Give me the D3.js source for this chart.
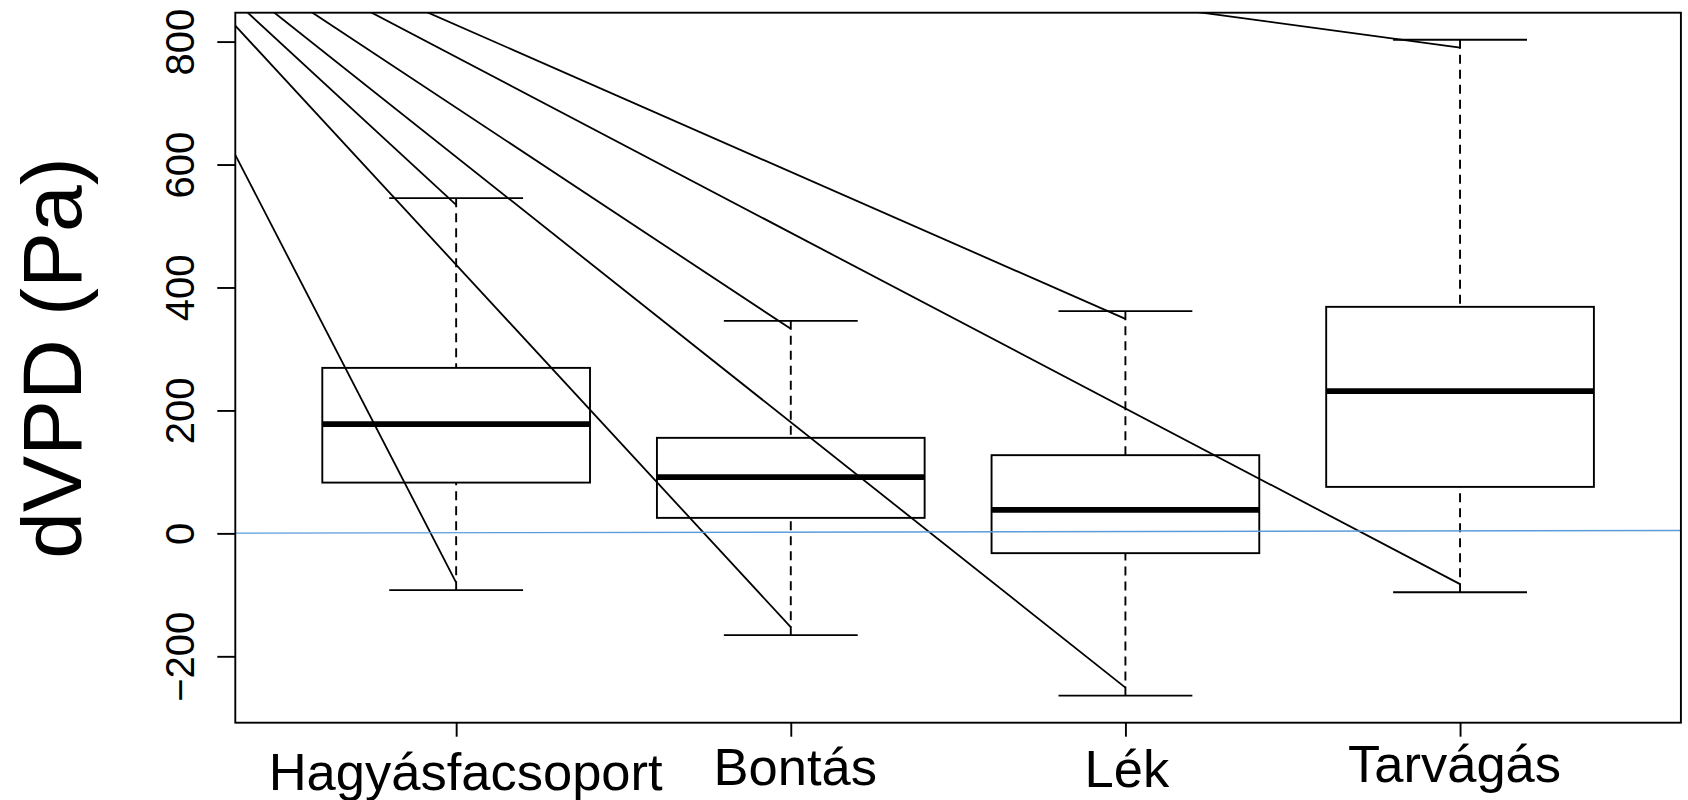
<!DOCTYPE html>
<html>
<head>
<meta charset="utf-8">
<script src="https://cdn.jsdelivr.net/npm/d3@7"></script>
<style>
  body { margin: 0; background: #fff; }
  svg { display: block; }
</style>
</head>
<body>
<div id="chart"></div>
<script>
// Box statistics per group (Pa)
const groups = ['Hagyásfacsoport', 'Bontás', 'Lék', 'Tarvágás'];
const whiskerLow = [-92.4, -165.6, -263.9, -95.7];
const q1 = [82.6, 25.2, -32.2, 75.6];
const median = [177.6, 91.4, 38.2, 231.3];
const q3 = [269.2, 155.4, 127.2, 368.5];
const whiskerHigh = [545.3, 345.7, 361.5, 803.0];

// the straight lines all start from one point above the plot and end near the whisker tips
const lineOrigin = [-0.113, 1093];
const lineEndLow = [-80.0, -152.6, -250.9, -82.6];
const lineEndHigh = [534.4, 332.7, 349.0, 790.3];

// reference line: intercept, slope
const refLine = [0, 1];

const yTicks = [-200, 0, 200, 400, 600, 800];
const yLimits = [-308, 847];
const xLimits = [0.34, 4.66];

const width = 1688;
const height = 800;
const plot = {left: 235.3, right: 1680.9, top: 12.7, bottom: 722.7};
const lw = 1.9;

const xScale = d3.scaleLinear().domain(xLimits).range([plot.left, plot.right]);
const yScale = d3.scaleLinear().domain(yLimits).range([plot.bottom, plot.top]);

const svg = d3.select('#chart')
  .append('svg')
  .attr('width', width)
  .attr('height', height)
  .style('background', '#fff')
  .style('font-family', '"Liberation Sans", Arial, sans-serif');

svg.append('clipPath')
  .attr('id', 'plot-clip')
  .append('rect')
  .attr('x', plot.left)
  .attr('y', plot.top)
  .attr('width', plot.right - plot.left)
  .attr('height', plot.bottom - plot.top);

const boxes = svg.append('g');
const half = 0.4, stapleHalf = 0.2;

groups.forEach((g, i) => {
  const x = i + 1;
  // whiskers, drawn from the tip towards the box like R does
  boxes.append('line')
    .attr('x1', xScale(x)).attr('x2', xScale(x))
    .attr('y1', yScale(whiskerHigh[i])).attr('y2', yScale(q3[i]))
    .attr('stroke', '#000').attr('stroke-width', lw)
    .attr('stroke-dasharray', '9,6');
  boxes.append('line')
    .attr('x1', xScale(x)).attr('x2', xScale(x))
    .attr('y1', yScale(whiskerLow[i])).attr('y2', yScale(q1[i]))
    .attr('stroke', '#000').attr('stroke-width', lw)
    .attr('stroke-dasharray', '9,6');
  // staples
  [whiskerHigh[i], whiskerLow[i]].forEach(v => {
    boxes.append('line')
      .attr('x1', xScale(x - stapleHalf)).attr('x2', xScale(x + stapleHalf))
      .attr('y1', yScale(v)).attr('y2', yScale(v))
      .attr('stroke', '#000').attr('stroke-width', lw);
  });
  // box
  boxes.append('rect')
    .attr('x', xScale(x - half))
    .attr('y', yScale(q3[i]))
    .attr('width', xScale(x + half) - xScale(x - half))
    .attr('height', yScale(q1[i]) - yScale(q3[i]))
    .attr('fill', 'none')
    .attr('stroke', '#000').attr('stroke-width', lw);
  // median
  boxes.append('line')
    .attr('x1', xScale(x - half)).attr('x2', xScale(x + half))
    .attr('y1', yScale(median[i])).attr('y2', yScale(median[i]))
    .attr('stroke', '#000').attr('stroke-width', lw * 3);
});

// lines from the common origin
const lines = svg.append('g').attr('clip-path', 'url(#plot-clip)');
groups.forEach((g, i) => {
  [lineEndHigh[i], lineEndLow[i]].forEach(v => {
    lines.append('line')
      .attr('x1', xScale(lineOrigin[0])).attr('y1', yScale(lineOrigin[1]))
      .attr('x2', xScale(i + 1)).attr('y2', yScale(v))
      .attr('stroke', '#000').attr('stroke-width', 1.8);
  });
});

// reference line
lines.append('line')
  .attr('x1', xScale(xLimits[0])).attr('y1', yScale(refLine[0] + refLine[1] * xLimits[0]))
  .attr('x2', xScale(xLimits[1])).attr('y2', yScale(refLine[0] + refLine[1] * xLimits[1]))
  .attr('stroke', '#5d9cdb').attr('stroke-width', 1.4);

// frame
svg.append('rect')
  .attr('x', plot.left).attr('y', plot.top)
  .attr('width', plot.right - plot.left)
  .attr('height', plot.bottom - plot.top)
  .attr('fill', 'none')
  .attr('stroke', '#000').attr('stroke-width', lw);

// x axis (labels nudged a little, as in the original)
const labelBaseline = [67.3, 62.3, 64, 59];
const labelShift = [9, 4, 1, -6];
const xAxis = d3.axisBottom(xScale)
  .tickValues(groups.map((g, i) => i + 1))
  .tickFormat((d, i) => groups[i])
  .tickSize(14);
const xg = svg.append('g')
  .attr('transform', `translate(0, ${plot.bottom})`)
  .call(xAxis);
xg.select('.domain').remove();
xg.selectAll('line').attr('stroke', '#000').attr('stroke-width', lw);
xg.selectAll('text')
  .attr('x', (d, i) => labelShift[i])
  .attr('y', (d, i) => labelBaseline[i])
  .attr('dy', 0)
  .attr('fill', '#000')
  .style('font-size', '52.5px')
  .style('font-family', '"Liberation Sans", Arial, sans-serif');

// y axis
const yAxis = d3.axisLeft(yScale).tickValues(yTicks).tickSize(18);
const yg = svg.append('g')
  .attr('transform', `translate(${plot.left}, 0)`)
  .call(yAxis);
yg.select('.domain').remove();
yg.selectAll('line').attr('stroke', '#000').attr('stroke-width', lw);
yg.selectAll('text')
  .attr('x', 0).attr('y', 0).attr('dy', 0)
  .attr('text-anchor', 'middle')
  .attr('transform', `translate(${193.5 - plot.left}, 0) rotate(-90)`)
  .attr('fill', '#000')
  .style('font-size', '40px')
  .style('font-family', '"Liberation Sans", Arial, sans-serif');

// y axis title
svg.append('text')
  .attr('transform', 'translate(81, 358) rotate(-90)')
  .attr('text-anchor', 'middle')
  .style('font-size', '84px')
  .text('dVPD (Pa)');
</script>
</body>
</html>
